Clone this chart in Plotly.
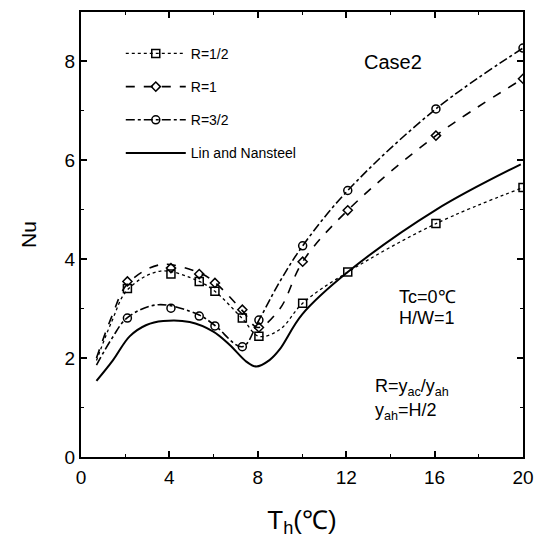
import plotly.graph_objects as go

# Measured points (markers)
th_pts = [2.1, 4.07, 5.35, 6.06, 7.3, 8.05, 10.03, 12.07, 16.06, 20.0]
nu_half = [3.41, 3.70, 3.55, 3.35, 2.81, 2.44, 3.11, 3.74, 4.72, 5.45]
nu_one = [3.55, 3.82, 3.70, 3.52, 2.98, 2.62, 3.95, 4.99, 6.50, 7.65]
nu_three_half = [2.81, 3.01, 2.85, 2.65, 2.23, 2.77, 4.27, 5.39, 7.04, 8.27]

# Fitted curves
cx_half = [0.7, 1.4, 2.1, 3.6, 5.35, 6.06, 7.3, 8.05, 9.0, 10.03, 12.07, 16.06, 20.0]
cy_half = [1.95, 2.75, 3.38, 3.76, 3.55, 3.35, 2.80, 2.44, 2.58, 3.11, 3.74, 4.72, 5.45]
cx_one = [0.7, 1.4, 2.1, 3.6, 5.38, 6.06, 7.3, 8.0, 9.0, 10.03, 12.07, 16.06, 20.0]
cy_one = [2.00, 2.85, 3.50, 3.89, 3.72, 3.53, 2.96, 2.62, 3.00, 3.95, 4.99, 6.50, 7.65]
cx_th = [0.7, 1.4, 2.1, 3.5, 5.35, 6.06, 7.3, 8.05, 9.0, 10.03, 12.07, 16.06, 20.0]
cy_th = [1.86, 2.40, 2.82, 3.08, 2.87, 2.66, 2.23, 2.77, 3.55, 4.27, 5.39, 7.04, 8.27]
cx_lin = [0.7, 1.45, 2.2, 2.96, 3.72, 4.92, 5.97, 6.72, 7.48, 7.93, 8.53, 8.98, 10.0, 12.07, 16.06, 19.9]
cy_lin = [1.54, 1.96, 2.44, 2.67, 2.75, 2.73, 2.54, 2.27, 1.93, 1.83, 1.96, 2.17, 2.88, 3.74, 5.00, 5.92]

x_ticks = [0, 4, 8, 12, 16, 20]
y_ticks = [0, 2, 4, 6, 8]

FONT = "Liberation Sans, Arial, sans-serif"
fig = go.Figure()

series = [
    ("R=1/2", cx_half, cy_half, nu_half, "dot", 1.3, "square-open", 8),
    ("R=1", cx_one, cy_one, nu_one, "dash", 1.6, "diamond-open", 7),
    ("R=3/2", cx_th, cy_th, nu_three_half, "dashdot", 1.6, "circle-open", 8),
]
for i, (name, cx, cy, ny, dash, lw, sym, ms) in enumerate(series):
    fig.add_trace(go.Scatter(x=cx, y=cy, mode="lines", line=dict(color="black", dash=dash, width=lw, shape="spline", smoothing=1.0), showlegend=False, hoverinfo="skip"))
    fig.add_trace(go.Scatter(x=th_pts, y=ny, mode="markers", marker=dict(symbol=sym, size=ms, color="black", line=dict(width=1.5, color="black")), showlegend=False))
    fig.add_trace(go.Scatter(x=[None], y=[None], mode="lines+markers", name=name, legendgroup=name,
                             line=dict(color="black", dash=dash, width=lw),
                             marker=dict(symbol=sym, size=ms, color="black", line=dict(width=1.5, color="black"))))

fig.add_trace(go.Scatter(x=cx_lin, y=cy_lin, mode="lines", name="Lin and Nansteel", legendgroup="lin",
                         line=dict(color="black", width=2, shape="spline", smoothing=1.0)))

axis_common = dict(showline=True, linecolor="black", linewidth=2, mirror="ticks", ticks="inside",
                   ticklen=6, tickwidth=1.5, tickcolor="black", showgrid=False, zeroline=False,
                   automargin=False,
                   tickfont=dict(family=FONT, size=19, color="black"),
                   minor=dict(ticks="inside", ticklen=3, tickwidth=1, tickcolor="black"))

fig.update_xaxes(range=[0, 20], tickvals=x_ticks,
                 minor_dtick=2, ticklabelstandoff=2,
                 title=dict(text="T<sub>h</sub>(℃)", font=dict(family=FONT, size=26, color="black"), standoff=24),
                 **axis_common)
fig.update_yaxes(range=[0, 9], tickvals=y_ticks, minor_dtick=1,
                 title=dict(text="Nu", font=dict(family=FONT, size=21, color="black"), standoff=22),
                 **axis_common)

ann_font = dict(family=FONT, size=18, color="black")
fig.add_annotation(x=14.1, y=7.98, text="Case2", showarrow=False, font=dict(family=FONT, size=20, color="black"))
fig.add_annotation(x=14.3, y=3.24, text="Tc=0℃", showarrow=False, xanchor="left", yanchor="middle", font=ann_font)
fig.add_annotation(x=14.3, y=2.81, text="H/W=1", showarrow=False, xanchor="left", yanchor="middle", font=ann_font)
fig.add_annotation(x=13.2, y=1.4, text="R=y<sub>ac</sub>/y<sub>ah</sub>", showarrow=False, xanchor="left", yanchor="middle", font=ann_font)
fig.add_annotation(x=13.2, y=0.92, text="y<sub>ah</sub>=H/2", showarrow=False, xanchor="left", yanchor="middle", font=ann_font)

fig.update_layout(
    width=536, height=544,
    margin=dict(l=81, r=13, t=12, b=87, autoexpand=False),
    plot_bgcolor="white", paper_bgcolor="white",
    legend=dict(x=0.09, y=0.942, xanchor="left", yanchor="top", bgcolor="rgba(0,0,0,0)",
                font=dict(family=FONT, size=14, color="black"), tracegroupgap=12, itemwidth=60),
    font=dict(family=FONT, color="black"),
)

# Remove the default 8px page margin so the 536x544 figure fills the window exactly.
fig.write_html("out.html", config={"displayModeBar": False},
               post_script="document.body.style.margin='0';document.body.style.overflow='hidden';")
